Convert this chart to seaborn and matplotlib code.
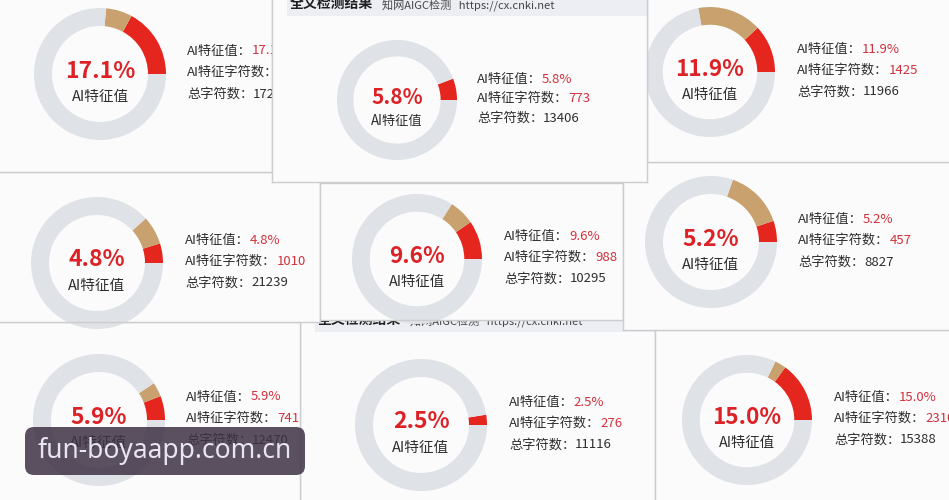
import matplotlib
matplotlib.use('Agg')
import matplotlib.pyplot as plt
from matplotlib.patches import Rectangle, FancyBboxPatch
import seaborn as sns

# values (left->right, top->bottom)
ai_rate = [17.1, 5.8, 11.9, 4.8, 9.6, 5.2, 5.9, 2.5, 15.0]
suspect_rate = [6.4, 0.0, 16.0, 7.0, 6.4, 14.4, 3.5, 0.0, 2.8]
ai_chars = [2949, 773, 1425, 1010, 988, 457, 741, 276, 2310]
total_chars = [17246, 13406, 11966, 21239, 10295, 8827, 12470, 11116, 15388]
row_labels = ['AI特征值：', 'AI特征字符数：', '总字符数：']
centre_label = 'AI特征值'
header_title = '全文检测结果'
header_sub = '知网AIGC检测   https://cx.cnki.net'
watermark = 'fun-boyaapp.com.cn'

# layout in pixels (left, top, width, height), donut centre, radius
W, H = 949, 500
boxes = [(-12, -2, 284, 174), (272, -2, 375, 184), (647, -2, 312, 164),
         (-12, 172, 332, 150), (320, 183, 303, 137), (623, 162, 336, 168),
         (-12, 322, 312, 190), (300, 310, 355, 200), (655, 330, 304, 180)]
centres = [(100, 74), (397, 100), (710, 72), (97, 263), (417, 259),
           (711, 242), (99, 420), (421, 425), (747, 420)]
radii = [66, 60, 65, 66, 65, 66, 66, 66, 65]
info_dx = [87, 80, 87, 88, 87, 87, 87, 88, 87]
header_base = [None, 10, None, None, None, None, None, 14, None]
draw_order = [7, 6, 8, 3, 4, 5, 0, 2, 1]

RED = '#e5261e'
TAN = '#c9a16e'
RING = '#dfe2e6'
VAL = '#d3303c'
INK = '#2e2e2e'

sns.set_theme(style='white')
plt.rcParams['font.family'] = ['Noto Sans CJK SC', 'DejaVu Sans']

fig = plt.figure(figsize=(W / 100, H / 100), dpi=100, facecolor='#e4e4e7')

for i in draw_order:
    l, t, w, h = boxes[i]
    ax = fig.add_axes([l / W, 1 - (t + h) / H, w / W, h / H])
    ax.set_facecolor('#fbfbfc')
    cx, cy = centres[i][0] - l, t + h - centres[i][1]
    r = radii[i]
    s = r / 66

    # donut: AI part in red, suspected part in tan, rest grey
    rest = 100 - ai_rate[i] - suspect_rate[i]
    ax.pie([ai_rate[i], suspect_rate[i], rest], colors=[RED, TAN, RING],
           startangle=0, counterclock=True, radius=r, center=(cx, cy),
           frame=True, wedgeprops=dict(width=18 * s, linewidth=0))
    ax.set_aspect('auto')
    ax.set_xlim(0, w)
    ax.set_ylim(0, h)
    ax.set_xticks([])
    ax.set_yticks([])
    for sp in ax.spines.values():
        sp.set_color('#cdcdd0')
        sp.set_linewidth(1)

    ax.text(cx, cy + 3 * s, f'{ai_rate[i]:.1f}%', color='#dc2226', fontsize=16.5 * s,
            fontweight='bold', ha='center', va='center', clip_on=True)
    ax.text(cx, cy - 23 * s, centre_label, color=INK, fontsize=10.5 * s,
            ha='center', va='center', clip_on=True)

    # three info rows to the right
    values = [f'{ai_rate[i]:.1f}%', str(ai_chars[i]), str(total_chars[i])]
    colours = [VAL, VAL, INK]
    step = 21.5 * s
    for k in range(3):
        lab = ax.text(cx + info_dx[i], cy + 23 * s - k * step, row_labels[k],
                      color=INK, fontsize=9.5, ha='left', va='center', clip_on=True)
        ax.annotate(values[k], xy=(1, 0.5), xycoords=lab, color=colours[k],
                    fontsize=9.5, ha='left', va='center', clip_on=True,
                    annotation_clip=False)

    if header_base[i] is not None:
        ax.add_patch(Rectangle((15, h - header_base[i] - 8), w - 15, 30,
                               color='#eceef4', lw=0))
        ttl = ax.text(18, h - header_base[i], header_title, color='#1e1e1e',
                      fontsize=10, fontweight='bold', ha='left', va='baseline',
                      clip_on=True)
        ax.annotate(header_sub, xy=(1, 0), xycoords=ttl, xytext=(6, 0),
                    textcoords='offset points', color='#444444', fontsize=8,
                    ha='left', va='bottom', clip_on=True, annotation_clip=False)

# watermark overlay
ov = fig.add_axes([0, 0, 1, 1])
ov.set_xlim(0, W)
ov.set_ylim(H, 0)
ov.axis('off')
ov.add_patch(FancyBboxPatch((25, 427), 280, 48, boxstyle='round,pad=0,rounding_size=9',
                            facecolor='#3e3245', edgecolor='none', alpha=0.85))
ov.text(165, 451, watermark, color='#e8e4f0', fontsize=19, family='Noto Sans',
        ha='center', va='center')

fig.savefig('out.png', dpi=100, facecolor=fig.get_facecolor())
